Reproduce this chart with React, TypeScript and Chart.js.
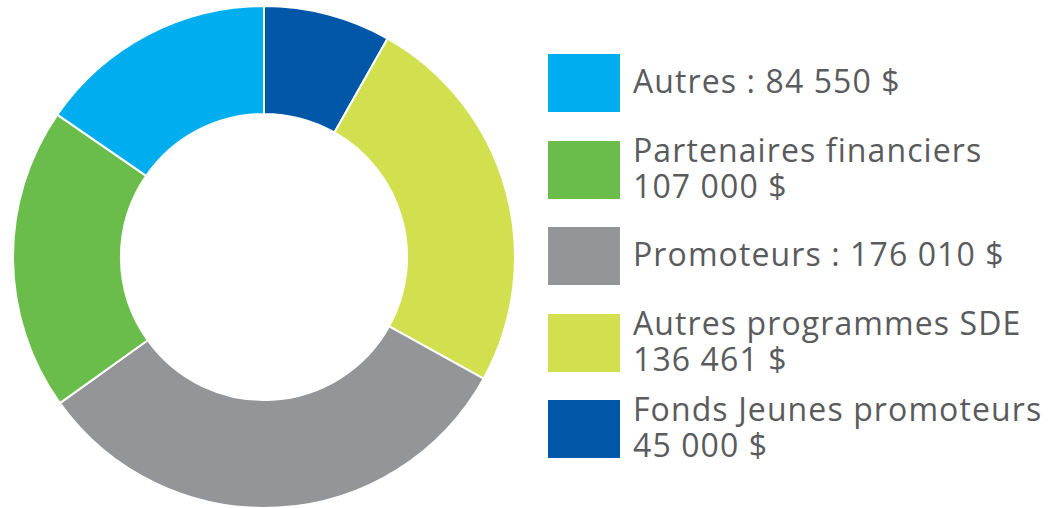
import React, { useEffect, useRef } from "react";
import { Chart, registerables } from "chart.js";

Chart.register(...registerables);

// Data in clockwise order starting at 12 o'clock
const categories = [
  "Fonds Jeunes promoteurs",
  "Autres programmes SDE",
  "Promoteurs",
  "Partenaires financiers",
  "Autres",
];
const amounts = [45000, 136461, 176010, 107000, 84550];
const colors = ["#0057A8", "#D2DF4F", "#939598", "#6ABD4B", "#00AEEF"];
// whether the legend shows "Name : value" on one line
const inlineLabel = [false, false, true, false, true];

const fmt = (v: number) =>
  String(v).replace(/\B(?=(\d{3})+(?!\d))/g, " ") + " $";

const FONT = "'Open Sans', sans-serif";

export default function App() {
  const ref = useRef<HTMLCanvasElement | null>(null);

  useEffect(() => {
    if (!ref.current) return;
    const chart = new Chart(ref.current, {
      type: "doughnut",
      data: {
        labels: categories,
        datasets: [
          {
            data: amounts,
            backgroundColor: colors,
            borderColor: "#ffffff",
            borderWidth: 2,
          },
        ],
      },
      options: {
        animation: false,
        responsive: true,
        maintainAspectRatio: false,
        cutout: "57%",
        layout: { padding: 0 },
        plugins: {
          legend: { display: false },
          tooltip: { enabled: false },
        },
      },
    });
    return () => chart.destroy();
  }, []);

  const legendOrder = categories.map((_, i) => i).reverse();

  return (
    <div
      style={{
        position: "absolute",
        left: 0,
        top: 0,
        width: 1050,
        height: 508,
        background: "#fff",
        overflow: "hidden",
      }}
    >
      <div style={{ position: "absolute", left: 12, top: 5, width: 504, height: 504 }}>
        <canvas ref={ref} />
      </div>
      <div
        style={{
          position: "absolute",
          left: 548,
          top: 54,
          display: "flex",
          flexDirection: "column",
          gap: 28.5,
        }}
      >
        {legendOrder.map((i) => (
          <div key={i} style={{ display: "flex", alignItems: "center", height: 58 }}>
            <div style={{ width: 72, height: 58, background: colors[i], flex: "none" }} />
            <div
              style={{
                marginLeft: 13,
                fontFamily: FONT,
                fontSize: 32,
                letterSpacing: 1.1,
                lineHeight: "36px",
                color: "#5A5B5D",
                whiteSpace: "nowrap",
                position: "relative",
                top: -2,
              }}
            >
              {inlineLabel[i] ? (
                <div>{categories[i] + " : " + fmt(amounts[i])}</div>
              ) : (
                <>
                  <div>{categories[i]}</div>
                  <div>{fmt(amounts[i])}</div>
                </>
              )}
            </div>
          </div>
        ))}
      </div>
    </div>
  );
}
